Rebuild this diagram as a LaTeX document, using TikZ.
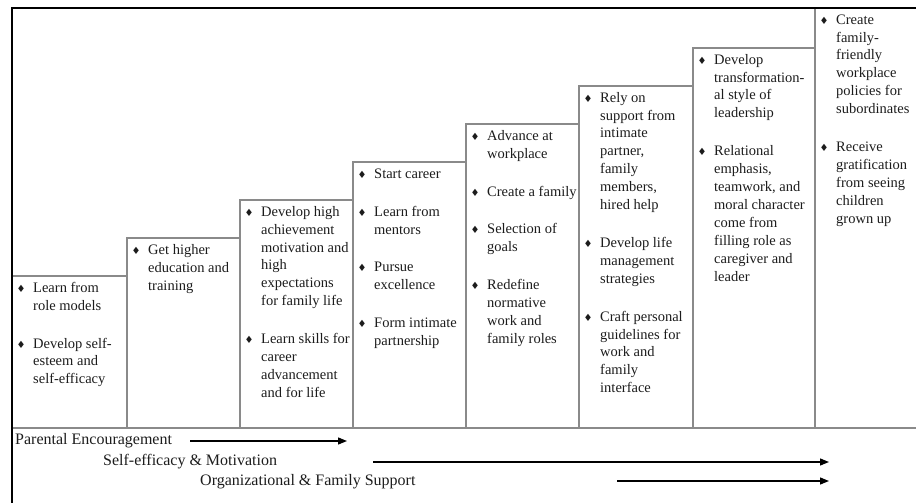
\documentclass[tikz,border=0pt]{standalone}
\usepackage{fontspec}
\setmainfont{Liberation Serif}
\newfontfamily\symf{DejaVu Sans}
\usetikzlibrary{arrows.meta}

\definecolor{stepgray}{HTML}{8A8A8A}
\definecolor{ink}{HTML}{1C1C1C}

% bullet glyph and list item with hanging bullet
\newcommand{\bul}{{\symf\fontsize{10}{10}\selectfont\char"2666}}
\newcommand{\itm}{\par\leavevmode\llap{\makebox[16.5pt][l]{\bul}}\rule{0pt}{13pt}}
\newcommand{\stage}[1]{\begin{minipage}[t]{150pt}\raggedright
  \leftskip=16.5pt\relax\parskip=20pt\relax\parindent=0pt\relax #1\par\end{minipage}}

\tikzset{
  stepline/.style={draw=stepgray, line width=1.3pt},
  frame/.style={draw=black, line width=2.6pt},
  steptext/.style={anchor=north west, inner sep=0pt, text=ink,
    font=\fontsize{14.5}{17.9}\selectfont},
  forcelabel/.style={anchor=base west, inner sep=0pt, text=ink,
    font=\fontsize{16}{19}\selectfont},
  forcearrow/.style={draw=black, line width=1.3pt,
    -{Triangle[length=9pt,width=7pt]}}
}

\begin{document}
\begin{tikzpicture}[x=1pt,y=-1pt]
\useasboundingbox (0,0) rectangle (916,503);

% staircase of stages
\draw[stepline] (12,428) -- (916,428);
\foreach \l/\r/\t in {12/127/276, 127/240/238, 240/353/200, 353/466/162,
                      466/579/124, 579/693/86, 693/815/48}
  \draw[stepline] (\l,428) -- (\l,\t) -- (\r,\t) -- (\r,428);
\draw[stepline] (815,428) -- (815,8);

% outer frame
\draw[frame] (12,503) -- (12,8) -- (916,8);

% stage contents
\node[steptext] (s1) at (16.5,279) {\stage{
  \itm Learn from\newline role models
  \itm Develop self-\newline esteem and\newline self-efficacy}};

\node[steptext] (s2) at (131.5,241) {\stage{
  \itm Get higher\newline education and\newline training}};

\node[steptext] (s3) at (244.5,203) {\stage{
  \itm Develop high\newline achievement\newline motivation and\newline high\newline expectations\newline for family life
  \itm Learn skills for\newline career\newline advancement\newline and for life}};

\node[steptext] (s4) at (357.5,165) {\stage{
  \itm Start career
  \itm Learn from\newline mentors
  \itm Pursue\newline excellence
  \itm Form intimate\newline partnership}};

\node[steptext] (s5) at (470.5,127) {\stage{
  \itm Advance at\newline workplace
  \itm Create a family
  \itm Selection of\newline goals
  \itm Redefine\newline normative\newline work and\newline family roles}};

\node[steptext] (s6) at (583.5,89) {\stage{
  \itm Rely on\newline support from\newline intimate\newline partner,\newline family\newline members,\newline hired help
  \itm Develop life\newline management\newline strategies
  \itm Craft personal\newline guidelines for\newline work and\newline family\newline interface}};

\node[steptext] (s7) at (697.5,51) {\stage{
  \itm Develop\newline transformation-\newline al style of\newline leadership
  \itm Relational\newline emphasis,\newline teamwork, and\newline moral character\newline come from\newline filling role as\newline caregiver and\newline leader}};

\node[steptext] (s8) at (819.5,11) {\stage{
  \itm Create\newline family-\newline friendly\newline workplace\newline policies for\newline subordinates
  \itm Receive\newline gratification\newline from seeing\newline children\newline grown up}};

% supporting forces
\node[forcelabel] (pe) at (15,444) {Parental Encouragement};
\node[forcelabel] (sm) at (103,465) {Self-efficacy \& Motivation};
\node[forcelabel] (of) at (200,485) {Organizational \& Family Support};

\coordinate (pe-a) at (190,441);
\coordinate (pe-b) at (347,441);
\coordinate (sm-a) at (373,462);
\coordinate (sm-b) at (829,462);
\coordinate (of-a) at (617,481);
\coordinate (of-b) at (829,481);

\draw[forcearrow] (pe-a) -- (pe-b);
\draw[forcearrow] (sm-a) -- (sm-b);
\draw[forcearrow] (of-a) -- (of-b);
\end{tikzpicture}
\end{document}
